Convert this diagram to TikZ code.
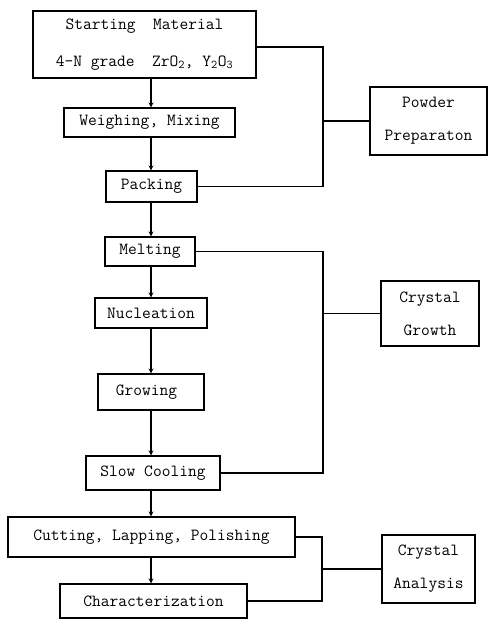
\documentclass[tikz,border=0pt]{standalone}
\usetikzlibrary{arrows.meta}

\begin{document}
\begin{tikzpicture}[x=1pt, y=-1pt,
    stepbox/.style={draw, line width=1.1pt, inner sep=0pt, align=center,
        font=\ttfamily\fontsize{17}{33}\selectfont},
    link/.style={line width=1.1pt},
    flow/.style={line width=1.1pt, -{Stealth[length=5pt, width=5pt]}}]

    % Fix the size of the page
    \useasboundingbox (0,0) rectangle (488,619);

    % The column that the arrows run down
    \coordinate (axis) at (151,0);

    % Process steps on the left
    \node[stepbox, minimum width=223, minimum height=67] (start) at (144.5,44.5)
        {Starting\ \ Material\\[4pt]4-N grade\ \ ZrO\textsubscript{2}, Y\textsubscript{2}O\textsubscript{3}};
    \node[stepbox, minimum width=171, minimum height=29] (weigh) at (149.5,122.5) {Weighing, Mixing};
    \node[stepbox, minimum width=91, minimum height=31] (pack) at (151.5,186.5) {Packing};
    \node[stepbox, minimum width=90, minimum height=29] (melt) at (150,251.5) {Melting};
    \node[stepbox, minimum width=112, minimum height=30] (nucl) at (151,313) {Nucleation};
    \node[stepbox, minimum width=106, minimum height=36] (grow) at (151,392) {Growing\hspace{9pt}};
    \node[stepbox, minimum width=134, minimum height=34] (cool) at (153,473) {Slow Cooling};
    \node[stepbox, minimum width=287, minimum height=40] (cut) at (151.5,537) {Cutting, Lapping, Polishing};
    \node[stepbox, minimum width=187, minimum height=34] (char) at (153.5,601) {Characterization};

    % Stage boxes on the right
    \node[stepbox, minimum width=117, minimum height=68] (powder) at (428.5,121) {Powder\\Preparaton};
    \node[stepbox, minimum width=98, minimum height=65] (growth) at (430,313.5) {Crystal\\Growth};
    \node[stepbox, minimum width=93, minimum height=68] (analysis) at (428.5,569) {Crystal\\Analysis};

    % Arrows down the column
    \draw[flow] (start.south -| axis) -- (weigh.north -| axis);
    \draw[flow] (weigh.south -| axis) -- (pack.north -| axis);
    \draw[flow] (pack.south -| axis) -- (melt.north -| axis);
    \draw[flow] (melt.south -| axis) -- (nucl.north -| axis);
    \draw[flow] (nucl.south -| axis) -- (grow.north -| axis);
    \draw[flow] (grow.south -| axis) -- (cool.north -| axis);
    \draw[flow] (cool.south -| axis) -- (cut.north -| axis);
    \draw[flow] (cut.south -| axis) -- (char.north -| axis);

    % Brackets joining the steps to their stage
    \coordinate (jp) at (323,121);
    \draw[link] ([yshift=-2.5pt]start.east) -| (jp) |- (pack.east);
    \draw[link] (jp) -- (powder.west);

    \coordinate (jg) at (323,313.5);
    \draw[link] (melt.east) -| (jg) |- (cool.east);
    \draw[link] (jg) -- (growth.west);

    \coordinate (ja) at (322,569);
    \draw[link] (cut.east) -| (ja) |- (char.east);
    \draw[link] (ja) -- (analysis.west);

\end{tikzpicture}
\end{document}
